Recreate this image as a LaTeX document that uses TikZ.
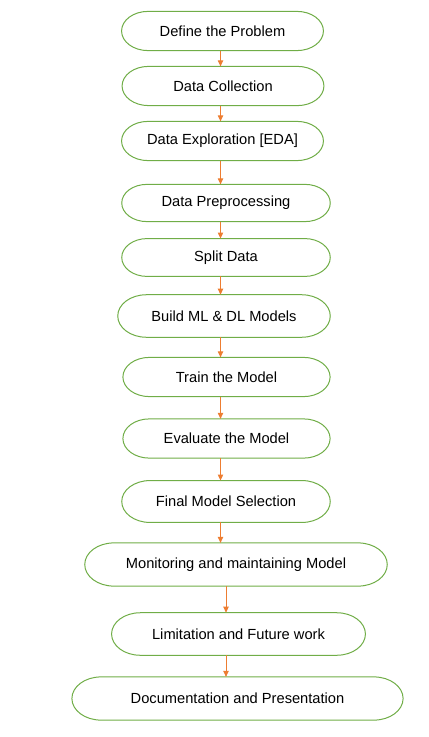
\documentclass[tikz,border=0pt]{standalone}
\usepackage{fontspec}
\setmainfont{Liberation Sans}
\usetikzlibrary{arrows.meta, calc}
\definecolor{stagegreen}{HTML}{70AD47}
\definecolor{floworange}{HTML}{ED7D31}

\begin{document}
\begin{tikzpicture}[x=0.75pt, y=-0.75pt, >={Triangle[length=4.5pt, width=4pt]},
  stage/.style={rectangle, inner sep=0pt, font=\fontsize{11}{13}\selectfont,
    text=black, minimum height=29pt},
  stageline/.style={draw=stagegreen, line width=0.75pt},
  flow/.style={->, draw=floworange, fill=floworange, line width=0.7pt}]
  \useasboundingbox (0,0) rectangle (428,737);
  \coordinate (spine) at (220.5,0);
  \coordinate (spinelow) at (226,0);

  \node[stage, minimum width=151pt] (problem) at (222.5,31) {Define the Problem};
  \node[stage, minimum width=151pt] (collect) at (223,86) {Data Collection};
  \node[stage, minimum width=151pt] (explore) at (222.5,141) {Data Exploration [EDA]};
  \node[stage, minimum width=156pt, minimum height=27.5pt] (prep) at (226,203) {Data Preprocessing};
  \node[stage, minimum width=156pt, minimum height=28pt] (split) at (226,257.5) {Split Data};
  \node[stage, minimum width=159pt, minimum height=31.5pt] (build) at (224,316) {Build ML \& DL Models};
  \node[stage, minimum width=155pt] (train) at (226.5,377) {Train the Model};
  \node[stage, minimum width=155pt] (evaluate) at (226.5,438.5) {Evaluate the Model};
  \node[stage, minimum width=156pt, minimum height=31pt] (select) at (226,501.5) {Final Model Selection};
  \node[stage, minimum width=226.5pt, minimum height=32pt] (monitor) at (236,564.5) {Monitoring and maintaining Model};
  \node[stage, minimum width=190pt, minimum height=31.5pt] (future) at (238.5,634) {Limitation and Future work};
  \node[stage, minimum width=248pt, minimum height=32pt] (docs) at (237.5,698.5) {Documentation and Presentation};

  % stadium outlines with elliptical ends
  \foreach \s in {problem, collect, explore, prep, split, build, train, evaluate,
      select, monitor, future, docs} {
    \draw[stageline] let \p1=(\s.north west), \p2=(\s.south east),
        \n1={(\y1-\y2)/2}, \n2={1.35*\n1} in
      (\x1+\n2,\y1) -- (\x2-\n2,\y1)
      arc[start angle=90, end angle=-90, x radius=\n2, y radius=\n1]
      -- (\x1+\n2,\y2)
      arc[start angle=270, end angle=90, x radius=\n2, y radius=\n1] -- cycle;
  }

  \foreach \a/\b in {problem/collect, collect/explore, explore/prep, prep/split, split/build,
      build/train, train/evaluate, evaluate/select, select/monitor} {
    \draw[flow] (\a.south -| spine) -- (\b.north -| spine);
  }
  \foreach \a/\b in {monitor/future, future/docs} {
    \draw[flow] (\a.south -| spinelow) -- (\b.north -| spinelow);
  }
\end{tikzpicture}
\end{document}
